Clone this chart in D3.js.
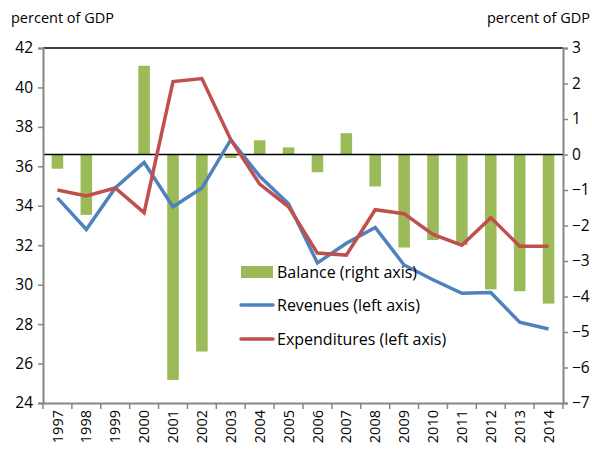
<!DOCTYPE html>
<html>
<head>
<meta charset="utf-8">
<script src="https://cdn.jsdelivr.net/npm/d3@7"></script>
<style>
body { margin: 0; background: #fff; }
text { font-family: "Open Sans", "Noto Sans", sans-serif; fill: #000; }
</style>
</head>
<body>
<div id="chart"></div>
<script>
// datos
const years = ["1997","1998","1999","2000","2001","2002","2003","2004","2005","2006","2007","2008","2009","2010","2011","2012","2013","2014"]
const balance = [-0.4, -1.7, 0, 2.5, -6.35, -5.55, -0.1, 0.4, 0.2, -0.5, 0.6, -0.9, -2.62, -2.41, -2.55, -3.8, -3.85, -4.2]
const revenues = [34.4, 32.8, 34.9, 36.2, 33.95, 34.9, 37.35, 35.5, 34.1, 31.1, 32.1, 32.9, 31.0, 30.25, 29.56, 29.6, 28.1, 27.75]
const expenditures = [34.8, 34.5, 34.9, 33.65, 40.3, 40.45, 37.35, 35.1, 33.95, 31.6, 31.5, 33.8, 33.6, 32.55, 32.0, 33.4, 31.95, 31.95]
const leftTicks = [24, 26, 28, 30, 32, 34, 36, 38, 40, 42]
const rightTicks = [-7, -6, -5, -4, -3, -2, -1, 0, 1, 2, 3]

const width = 592
const height = 453
const margin = { top: 48, bottom: 50, left: 43, right: 29 }

const svg = d3.select("#chart").append("svg")
    .attr("width", width)
    .attr("height", height)

const x = d3.scaleBand()
    .domain(years)
    .range([margin.left, width - margin.right])
    .paddingInner(0.6)
    .paddingOuter(0.3)

const xb = d3.scaleBand()
    .domain(years)
    .range([margin.left, width - margin.right])

const yL = d3.scaleLinear().domain([24, 42]).range([height - margin.bottom, margin.top])
const yR = d3.scaleLinear().domain([-7, 3]).range([height - margin.bottom, margin.top])

// barras
svg.append("g").selectAll("rect").data(years)
    .join("rect")
    .attr("x", (d, i) => xb(d) + xb.bandwidth() / 2 - x.bandwidth() / 2)
    .attr("width", x.bandwidth())
    .attr("y", (d, i) => yR(Math.max(0, balance[i])))
    .attr("height", (d, i) => Math.abs(yR(balance[i]) - yR(0)))
    .attr("fill", "#9BBB59")

// linea de cero y borde superior
svg.append("line")
    .attr("x1", margin.left).attr("x2", width - margin.right)
    .attr("y1", yR(0)).attr("y2", yR(0))
    .attr("stroke", "#000").attr("stroke-width", 1.5)
svg.append("line")
    .attr("x1", margin.left).attr("x2", width - margin.right)
    .attr("y1", margin.top).attr("y2", margin.top)
    .attr("stroke", "#000").attr("stroke-width", 1.5)

// lineas
const line = d3.line()
    .x((d, i) => xb(years[i]) + xb.bandwidth() / 2)
    .y(d => yL(d))

svg.append("path").datum(revenues)
    .attr("d", line).attr("fill", "none")
    .attr("stroke", "#4F81BD").attr("stroke-width", 3.5)
svg.append("path").datum(expenditures)
    .attr("d", line).attr("fill", "none")
    .attr("stroke", "#C0504D").attr("stroke-width", 3.5)

// ejes
const axisColor = "#868686"
const leftAxis = svg.append("g")
    .attr("transform", `translate(${margin.left},0)`)
    .call(d3.axisLeft(yL).tickValues(leftTicks).tickSize(5).tickPadding(5))
const rightAxis = svg.append("g")
    .attr("transform", `translate(${width - margin.right},0)`)
    .call(d3.axisRight(yR).tickValues(rightTicks).tickSize(5).tickPadding(4))
const bottomAxis = svg.append("g")
    .attr("transform", `translate(0,${height - margin.bottom})`)
    .call(d3.axisBottom(xb).tickSize(0).tickSizeOuter(0))

;[leftAxis, rightAxis, bottomAxis].forEach(g => {
    g.select(".domain").attr("stroke", axisColor).attr("stroke-width", 2)
    g.selectAll(".tick line").attr("stroke", axisColor).attr("stroke-width", 1.5)
    g.selectAll("text").attr("font-size", 15.5).attr("font-family", "Open Sans, sans-serif")
})

bottomAxis.selectAll(".tick text")
    .attr("transform", "rotate(-90)")
    .attr("text-anchor", "end")
    .attr("x", -7)
    .attr("y", 0)
    .attr("dy", "0.35em")
    .attr("font-size", 14.5)

// marcas entre categorias
svg.append("g").selectAll("line").data(years.concat(["end"]))
    .join("line")
    .attr("x1", (d, i) => margin.left + i * xb.step())
    .attr("x2", (d, i) => margin.left + i * xb.step())
    .attr("y1", height - margin.bottom)
    .attr("y2", height - margin.bottom + 6)
    .attr("stroke", axisColor).attr("stroke-width", 1.5)

// titulos
svg.append("text").attr("x", 11).attr("y", 23).attr("font-size", 14.5).text("percent of GDP")
svg.append("text").attr("x", 590).attr("y", 23).attr("text-anchor", "end").attr("font-size", 14.5).text("percent of GDP")

// leyenda
const legend = [
    { name: "Balance (right axis)", color: "#9BBB59", type: "bar", y: 272 },
    { name: "Revenues (left axis)", color: "#4F81BD", type: "line", y: 305 },
    { name: "Expenditures (left axis)", color: "#C0504D", type: "line", y: 339 }
]
const lg = svg.append("g").selectAll("g").data(legend).join("g")
lg.filter(d => d.type == "bar").append("rect")
    .attr("x", 241).attr("y", d => d.y - 6).attr("width", 32).attr("height", 12)
    .attr("fill", d => d.color)
lg.filter(d => d.type == "line").append("line")
    .attr("x1", 241).attr("x2", 273).attr("y1", d => d.y).attr("y2", d => d.y)
    .attr("stroke", d => d.color).attr("stroke-width", 3.5).attr("stroke-linecap", "round")
lg.append("text")
    .attr("x", 277).attr("y", d => d.y).attr("dy", "0.35em")
    .attr("font-size", 16)
    .text(d => d.name)
</script>
</body>
</html>
